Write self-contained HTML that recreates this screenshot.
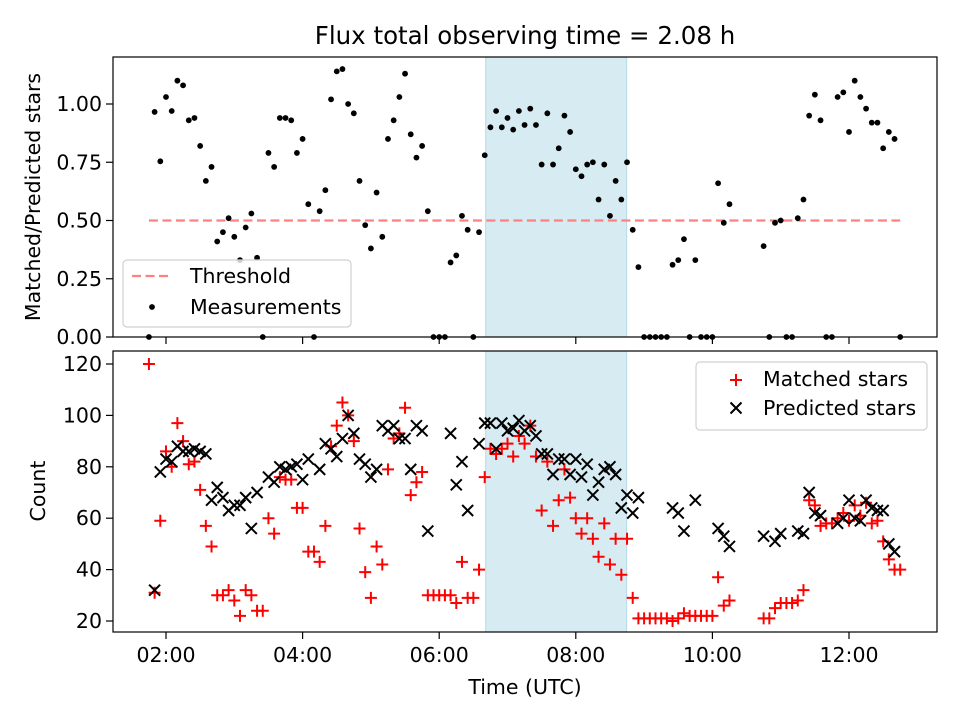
<!DOCTYPE html>
<html><head><meta charset="utf-8">
<style>
body{margin:0;background:#fff;}
svg{display:block;font-family:"DejaVu Sans","Liberation Sans",sans-serif;}
</style></head>
<body>
<svg id="chart" width="960" height="720" viewBox="0 0 960 720" xmlns="http://www.w3.org/2000/svg"></svg>
<script>
// ---- data (time in minutes since 00:00 UTC) ----
const ratioTimes = [105,110,115,120,125,130,135,140,145,150,155,160,165,170,175,180,185,190,195,200,205,210,215,220,225,230,235,240,245,250,255,260,265,270,275,280,285,290,295,300,305,310,315,320,325,330,335,340,345,350,355,360,365,370,375,380,385,390,395,400,405,410,415,420,425,430,435,440,445,450,455,460,465,470,475,480,485,490,495,500,505,510,515,520,525,530,535,540,545,550,555,560,565,570,575,580,585,590,595,600,605,610,615,645,650,655,660,665,670,675,680,685,690,695,700,705,710,715,720,725,730,735,740,745,750,755,760,765];
const ratioValues = [0,0.966,0.754,1.03,0.97,1.10,1.08,0.93,0.94,0.82,0.67,0.73,0.41,0.45,0.51,0.43,0.33,0.47,0.53,0.34,0,0.79,0.73,0.94,0.94,0.93,0.79,0.85,0.57,0,0.54,0.63,1.02,1.14,1.15,1.00,0.96,0.67,0.48,0.38,0.62,0.43,0.85,0.93,1.03,1.13,0.87,0.77,0.82,0.54,0,0,0,0.32,0.35,0.52,0.46,0,0.45,0.78,0.90,0.97,0.90,0.94,0.89,0.97,0.91,0.98,0.91,0.74,0.96,0.74,0.81,0.95,0.88,0.72,0.69,0.74,0.75,0.59,0.74,0.52,0.67,0.59,0.75,0.46,0.30,0,0,0,0,0,0.31,0.33,0.42,0,0.33,0,0,0,0.66,0.49,0.57,0.39,0,0.49,0.50,0,0,0.51,0.59,0.95,1.04,0.93,0,0,1.03,1.05,0.88,1.10,1.03,0.98,0.92,0.92,0.81,0.88,0.85,0];
const matchedTimes = [105,110,115,120,125,130,135,140,145,150,155,160,165,170,175,180,185,190,195,200,205,210,215,220,225,230,235,240,245,250,255,260,265,270,275,280,285,290,295,300,305,310,315,320,325,330,335,340,345,350,355,360,365,370,375,380,385,390,395,400,405,410,415,420,425,430,435,440,445,450,455,460,465,470,475,480,485,490,495,500,505,510,515,520,525,530,535,540,545,550,555,560,565,570,575,580,585,590,595,600,605,610,615,645,650,655,660,665,670,675,680,685,690,695,700,705,710,715,720,725,730,735,740,745,750,755,760,765];
const matchedCounts = [120,31,59,86,80,97,90,81,82,71,57,49,30,30,32,28,22,32,30,24,24,60,54,76,75,75,64,64,47,47,43,57,88,96,105,100,90,56,39,29,49,42,79,91,93,103,69,74,78,30,30,30,30,30,27,43,29,29,40,76,87,85,87,89,84,92,89,96,84,63,82,57,67,79,68,60,54,60,52,45,58,42,52,38,52,29,21,21,21,21,21,21,20,21,23,22,22,22,22,22,37,26,28,21,21,25,27,27,27,28,32,67,65,57,58,58,60,62,59,65,61,66,58,59,51,44,40,40];
const predictedTimes = [110,115,120,125,130,135,140,145,150,155,160,165,170,175,180,185,190,195,200,210,215,220,225,230,235,240,245,255,260,265,270,275,280,285,290,295,300,305,310,315,320,325,330,335,340,345,350,370,375,380,385,395,400,405,410,415,420,425,430,435,440,445,450,455,460,465,470,475,480,485,490,495,500,505,510,515,520,525,530,535,565,570,575,585,605,610,615,645,655,660,675,680,685,690,695,710,715,720,725,730,735,740,745,750,755,760];
const predictedCounts = [32,78,83,82,88,86,86,87,86,85,67,72,68,63,65,65,68,56,70,76,74,80,79,80,81,75,83,79,89,87,84,91,100,93,83,81,76,79,96,94,96,91,91,79,96,94,55,93,73,82,63,89,97,97,87,97,94,95,98,94,96,92,85,85,77,83,83,77,83,76,81,69,74,79,80,77,64,69,62,68,64,62,55,67,56,53,49,53,51,54,55,54,70,62,61,58,60,67,60,59,67,64,63,63,50,47];
const threshold = 0.5;
const shadeStart = 400.8, shadeEnd = 524.7;
const topTicks = [0,0.25,0.5,0.75,1.0];
const topTickLabels = ["0.00","0.25","0.50","0.75","1.00"];
const botTicks = [20,40,60,80,100,120];
const timeTicks = [120,240,360,480,600,720];
const timeTickLabels = ["02:00","04:00","06:00","08:00","10:00","12:00"];

// ---- layout ----
const L=113,R=937, T1=57,B1=337, T2=351,B2=632;
const xS = m => 166 + (m-120)*136.6/120;
const yTop = v => 337 - v*233;
const yBot = c => 621 - (c-20)*2.57;
const NS="http://www.w3.org/2000/svg";
const svg=document.getElementById('chart');
function el(tag,attrs,parent){const e=document.createElementNS(NS,tag);for(const k in attrs)e.setAttribute(k,attrs[k]);(parent||svg).appendChild(e);return e;}

// shading
[[T1,B1],[T2,B2]].forEach(([t,b],i)=>{
  const r=el('rect',{x:xS(shadeStart),y:t,width:xS(shadeEnd)-xS(shadeStart),height:b-t,fill:'rgba(173,216,230,0.5)',stroke:'rgba(150,200,220,0.6)','stroke-width':1});
  
  
});

// threshold
const th=el('line',{x1:xS(105),x2:xS(765),y1:yTop(threshold),y2:yTop(threshold),stroke:'#ff8080','stroke-width':2.2,'stroke-dasharray':'9,4.5'});



// measurements
const gm=el('g',{});


ratioTimes.forEach((t,i)=>{
  const c=el('circle',{cx:xS(t),cy:yTop(ratioValues[i]),r:2.9,fill:'#000'},gm);
  
  
});

// matched (+)
const gr=el('g',{stroke:'#ff0000','stroke-width':2});


matchedTimes.forEach((t,i)=>{
  const x=xS(t),y=yBot(matchedCounts[i]);
  const p=el('path',{d:`M${x-6} ${y}H${x+6}M${x} ${y-6}V${y+6}`},gr);
  
  
});
// predicted (x)
const gk=el('g',{stroke:'#000','stroke-width':2});


predictedTimes.forEach((t,i)=>{
  const x=xS(t),y=yBot(predictedCounts[i]);
  const p=el('path',{d:`M${x-5.5} ${y-5.5}L${x+5.5} ${y+5.5}M${x-5.5} ${y+5.5}L${x+5.5} ${y-5.5}`},gk);
  
  
});

// axes frames
[[T1,B1],[T2,B2]].forEach(([t,b],i)=>{
  const r=el('rect',{x:L,y:t,width:R-L,height:b-t,fill:'none',stroke:'#000','stroke-width':1.2});
  
  
});

// y ticks
topTicks.forEach((v,i)=>{
  const y=yTop(v);
  el('line',{x1:L-7,x2:L,y1:y,y2:y,stroke:'#000','stroke-width':1.2});
  const tx=el('text',{x:L-11,y:y+7,'text-anchor':'end','font-size':'20.5px',fill:'#000'});
  tx.textContent=topTickLabels[i];
  
  
});
botTicks.forEach(v=>{
  const y=yBot(v);
  el('line',{x1:L-7,x2:L,y1:y,y2:y,stroke:'#000','stroke-width':1.2});
  const tx=el('text',{x:L-11,y:y+7,'text-anchor':'end','font-size':'20.5px',fill:'#000'});
  tx.textContent=String(v);
  
  
});
// x ticks
timeTicks.forEach((m,i)=>{
  const x=xS(m);
  el('line',{x1:x,x2:x,y1:B1,y2:B1+7,stroke:'#000','stroke-width':1.2});
  el('line',{x1:x,x2:x,y1:B2,y2:B2+7,stroke:'#000','stroke-width':1.2});
  const tx=el('text',{x:x,y:B2+30,'text-anchor':'middle','font-size':'20.5px',fill:'#000'});
  tx.textContent=timeTickLabels[i];
  
  
});
</script>
<svg style="position:absolute;left:0;top:0" width="960" height="720" xmlns="http://www.w3.org/2000/svg" font-family="DejaVu Sans, Liberation Sans, sans-serif">
  <text x="525" y="44" text-anchor="middle" font-size="24.5px">Flux total observing time = 2.08 h</text>
  <text transform="translate(40,197) rotate(-90)" text-anchor="middle" font-size="20.5px">Matched/Predicted stars</text>
  <text transform="translate(45,491) rotate(-90)" text-anchor="middle" font-size="20.5px">Count</text>
  <text x="525" y="694" text-anchor="middle" font-size="20.5px">Time (UTC)</text>
  <g>
    <rect x="123" y="260" width="228" height="67" rx="4" fill="rgba(255,255,255,0.8)" stroke="#d0d0d0" stroke-width="1.2"/>
    <line x1="132" x2="172" y1="276" y2="276" stroke="#ff8080" stroke-width="2.2" stroke-dasharray="9,4.5"/>
    <text x="190" y="283" font-size="20.5px">Threshold</text>
    <circle cx="152" cy="307" r="2.9" fill="#000"/>
    <text x="190" y="314" font-size="20.5px">Measurements</text>
  </g>
  <g>
    <rect x="696" y="362" width="231" height="68" rx="4" fill="rgba(255,255,255,0.8)" stroke="#d0d0d0" stroke-width="1.2"/>
    <path d="M730 380H742M736 374V386" stroke="#ff0000" stroke-width="2"/>
    <text x="763" y="386" font-size="20.5px">Matched stars</text>
    <path d="M730.5 402.5L741.5 413.5M730.5 413.5L741.5 402.5" stroke="#000" stroke-width="2"/>
    <text x="763" y="415" font-size="20.5px">Predicted stars</text>
  </g>
</svg>
</body></html>
